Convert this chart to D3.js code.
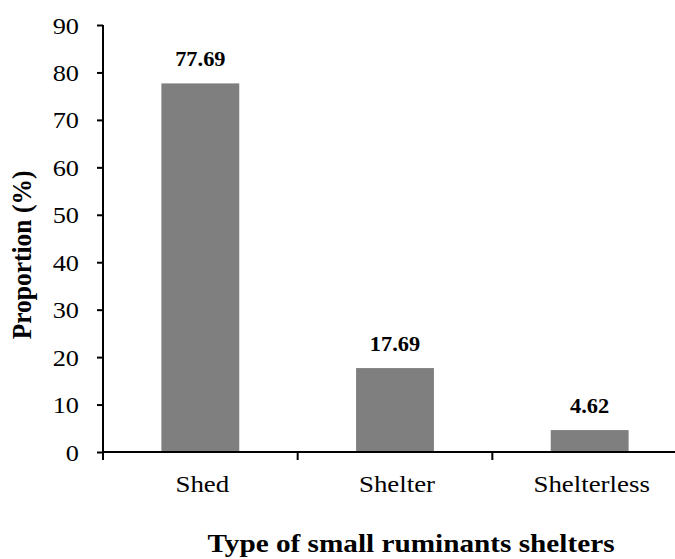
<!DOCTYPE html>
<html>
<head>
<meta charset="utf-8">
<script src="https://cdn.jsdelivr.net/npm/d3@7"></script>
<style>
  html, body { margin: 0; padding: 0; background: #fff; }
  svg { display: block; }
  text { font-family: "Liberation Serif", "Times New Roman", serif; fill: #000; }
</style>
</head>
<body>
<svg id="chart" width="675" height="559"></svg>
<script>
const categories = ["Shed", "Shelter", "Shelterless"];
const values = [77.69, 17.69, 4.62];
const valueLabels = ["77.69", "17.69", "4.62"];
const yTicks = [0, 10, 20, 30, 40, 50, 60, 70, 80, 90];
const yTitle = "Proportion (%)";
const xTitle = "Type of small ruminants shelters";

(function () {
const svg = d3.select("#chart");
const mLeft = 103, mRight = 687, mTop = 25, mBottom = 452;
const SX = 1.12; // horizontal glyph stretch seen in the reference

const x = d3.scaleBand().domain(categories).range([mLeft, mRight])
  .paddingInner(0.6).paddingOuter(0.3);
const y = d3.scaleLinear().domain([0, 90]).range([mBottom, mTop]);

// bars
svg.append("g").selectAll("rect").data(values).join("rect")
  .attr("x", (d, i) => x(categories[i]))
  .attr("y", d => y(d))
  .attr("width", x.bandwidth())
  .attr("height", d => y(0) - y(d))
  .attr("fill", "#7f7f7f");

// value labels
svg.append("g").selectAll("text").data(values).join("text")
  .attr("transform", (d, i) => `translate(${x(categories[i]) + x.bandwidth() / 2},${y(d) - 17}) scale(${SX},1)`)
  .attr("text-anchor", "middle")
  .attr("font-size", 20)
  .attr("font-weight", "bold")
  .text((d, i) => valueLabels[i]);

// y axis
const yAxis = svg.append("g").attr("transform", `translate(${mLeft},0)`)
  .call(d3.axisLeft(y).tickValues(yTicks).tickSize(6).tickPadding(0).tickFormat(d3.format("d")));
yAxis.select(".domain").attr("d", `M0,${mTop}V${mBottom}`).attr("stroke", "#000").attr("stroke-width", 2);
yAxis.selectAll(".tick line").attr("stroke", "#000").attr("stroke-width", 2);
yAxis.selectAll(".tick text").remove();
yAxis.selectAll(".tick").append("text")
  .attr("transform", `translate(-24,8) scale(${SX},1)`)
  .attr("text-anchor", "end")
  .attr("font-size", 23.5)
  .text(d => d);

// x axis (ticks at band boundaries)
const bounds = categories.map(c => x(c) - x.step() * x.paddingInner() / 2);
bounds[0] = mLeft;
const xg = svg.append("g");
xg.append("line").attr("x1", mLeft - 1).attr("x2", mRight).attr("y1", mBottom).attr("y2", mBottom)
  .attr("stroke", "#000").attr("stroke-width", 2);
xg.selectAll("line.tk").data(bounds).join("line").attr("class", "tk")
  .attr("x1", d => d).attr("x2", d => d).attr("y1", mBottom).attr("y2", mBottom + 8)
  .attr("stroke", "#000").attr("stroke-width", 2);
xg.selectAll("text").data(categories).join("text")
  .attr("transform", d => `translate(${x(d) + x.bandwidth() / 2 + 2},${mBottom + 40}) scale(${SX},1)`)
  .attr("text-anchor", "middle")
  .attr("font-size", 24)
  .text(d => d);

// axis titles
svg.append("text")
  .attr("transform", `translate(411,552) scale(1.17,1)`)
  .attr("text-anchor", "middle")
  .attr("font-size", 25)
  .attr("font-weight", "bold")
  .text(xTitle);

svg.append("text")
  .attr("transform", `translate(31,255) rotate(-90) scale(1,1.1)`)
  .attr("text-anchor", "middle")
  .attr("font-size", 25.5)
  .attr("font-weight", "bold")
  .text(yTitle);
})();
</script>
</body>
</html>
